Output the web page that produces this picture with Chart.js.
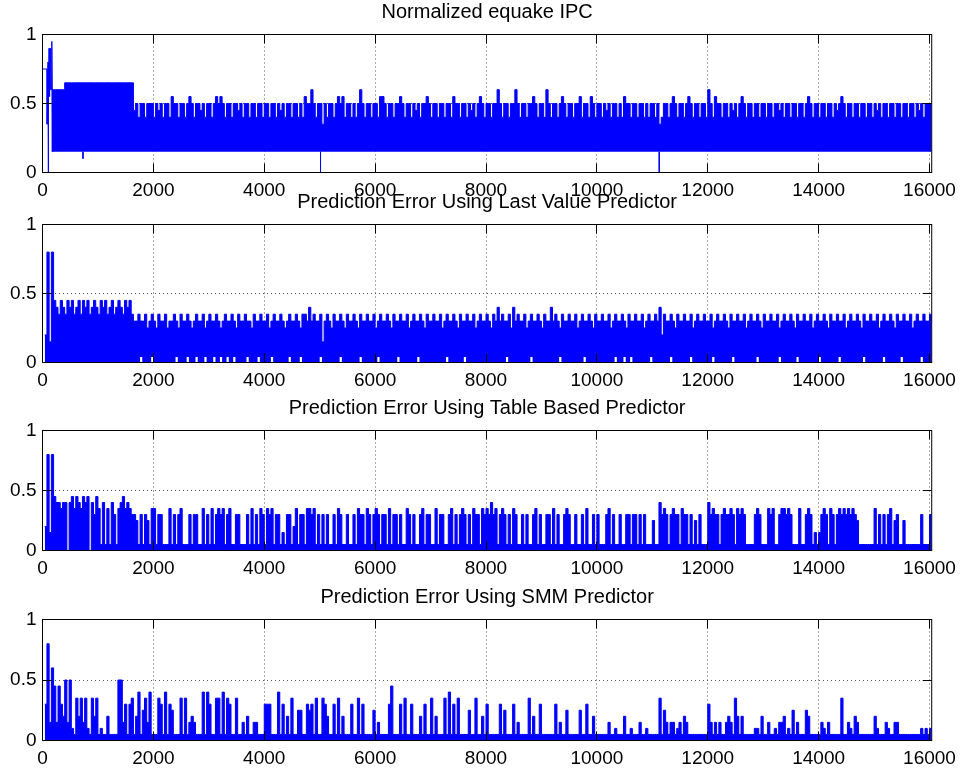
<!DOCTYPE html>
<html>
<head>
<meta charset="utf-8">
<title>equake IPC prediction error</title>
<script src="https://cdn.jsdelivr.net/npm/chart.js@4.4.1/dist/chart.umd.min.js"></script>
<style>
  html, body { margin: 0; padding: 0; background: #fff; overflow: hidden; }
  #fig { position: relative; width: 963px; height: 769px; }
  #fig canvas { position: absolute; left: 0; }
</style>
</head>
<body>
<div id="fig">
  <canvas id="ipcChart" width="963" height="201" style="top:-1px"></canvas>
  <canvas id="lastValueChart" width="963" height="201" style="top:189px"></canvas>
  <canvas id="tableChart" width="963" height="183" style="top:395px"></canvas>
  <canvas id="smmChart" width="963" height="184" style="top:584px"></canvas>
</div>
<script>
// asse x: un campione ogni 40 intervalli (0 .. 16040)
const sampleX = Array.from({ length: 402 }, (_, i) => i * 40);
const xTicks = [0, 2000, 4000, 6000, 8000, 10000, 12000, 14000, 16000];
const yTicks = [0, 0.5, 1];

const titles = [
  'Normalized equake IPC',
  'Prediction Error Using Last Value Predictor',
  'Prediction Error Using Table Based Predictor',
  'Prediction Error Using SMM Predictor'
];

// IPC normalizzato: parte iniziale (prima della banda)
const ipcHeadX = [0, 83, 84, 100, 104, 108, 118, 125, 132, 140, 148, 158, 168, 176, 182];
const ipcHeadY = [.75, .75, .35, .8, 0, .5, .9, .55, .9, .6, .9, .6, .95, .6, .15];
// limite inferiore della banda e picchi verso il basso
const ipcFloor = 0.15;
const ipcDipX = [730, 5015, 11125];
const ipcDipY = [.1, 0, 0];
// inviluppo superiore della banda
const ipcTop = [
  null,null,null,null,.6,.6,.6,.6,.6,.6,.65,.65,.65,.65,.65,.65,.65,.65,.65,.65,
  .65,.65,.65,.65,.65,.65,.65,.65,.65,.65,.65,.65,.65,.65,.65,.65,.65,.65,.65,.65,
  .65,.45,.5,.4,.5,.5,.4,.5,.5,.5,.4,.5,.45,.5,.4,.5,.5,.4,.55,.5,
  .5,.4,.5,.5,.4,.5,.55,.5,.4,.5,.5,.45,.5,.4,.5,.5,.4,.5,.55,.5,
  .55,.5,.4,.5,.5,.4,.5,.5,.45,.5,.4,.5,.5,.4,.5,.5,.4,.5,.5,.4,
  .5,.5,.4,.5,.5,.4,.5,.45,.5,.4,.5,.5,.4,.5,.5,.4,.5,.4,.55,.5,
  .5,.6,.5,.4,.5,.5,.35,.5,.4,.5,.5,.4,.5,.55,.5,.55,.4,.5,.5,.4,
  .5,.4,.5,.6,.5,.4,.5,.5,.4,.5,.5,.4,.55,.55,.5,.4,.5,.5,.4,.5,
  .5,.55,.5,.4,.5,.5,.4,.5,.45,.5,.4,.5,.5,.55,.5,.4,.5,.5,.4,.5,
  .5,.4,.5,.5,.4,.55,.5,.5,.4,.5,.5,.4,.5,.45,.5,.4,.5,.55,.5,.4,
  .5,.5,.4,.5,.5,.6,.5,.4,.5,.5,.4,.5,.5,.6,.5,.4,.5,.5,.4,.5,
  .5,.55,.5,.4,.5,.5,.4,.6,.5,.4,.5,.5,.4,.5,.55,.5,.4,.5,.5,.4,
  .5,.5,.55,.4,.5,.5,.4,.55,.5,.4,.5,.5,.4,.5,.45,.5,.4,.5,.5,.4,
  .5,.4,.55,.5,.5,.4,.5,.5,.4,.5,.5,.4,.5,.4,.5,.5,.4,.5,.35,.4,
  .5,.5,.4,.5,.55,.5,.4,.5,.5,.4,.5,.55,.5,.4,.5,.5,.4,.5,.5,.4,
  .6,.5,.4,.55,.5,.5,.4,.5,.5,.4,.5,.45,.5,.4,.5,.55,.5,.4,.5,.5,
  .4,.5,.5,.4,.5,.5,.4,.5,.5,.4,.5,.5,.45,.5,.4,.5,.5,.4,.5,.5,
  .4,.5,.5,.4,.5,.55,.5,.4,.5,.5,.4,.5,.5,.4,.5,.5,.4,.5,.45,.5,
  .55,.5,.4,.5,.5,.4,.5,.5,.4,.5,.5,.4,.5,.5,.4,.5,.45,.5,.4,.5,
  .5,.4,.5,.5,.4,.5,.5,.4,.5,.5,.4,.5,.5,.4,.5,.45,.5,.4,.5,.5,
  .5,.5
];

// errore predittore "last value": inviluppo superiore e inferiore
const lastValueTop = [
  null,.2,.8,.15,.8,.45,.4,.35,.45,.4,.35,.45,.4,.45,.35,.4,.45,.35,.45,.4,
  .45,.35,.4,.45,.4,.35,.45,.4,.45,.35,.4,.45,.35,.4,.45,.4,.35,.45,.4,.45,
  .35,.3,.3,.35,.3,.3,.35,.25,.3,.35,.3,.25,.35,.3,.3,.35,.25,.3,.3,.35,
  .3,.25,.35,.3,.3,.35,.3,.25,.3,.35,.3,.3,.35,.25,.3,.35,.3,.3,.35,.3,
  .25,.3,.35,.3,.3,.35,.3,.25,.35,.3,.3,.35,.3,.3,.25,.35,.3,.3,.35,.3,
  .3,.35,.25,.3,.35,.3,.3,.35,.3,.25,.3,.35,.3,.3,.35,.3,.25,.35,.35,.3,
  .4,.3,.35,.3,.3,.35,.15,.3,.35,.3,.25,.35,.3,.3,.35,.3,.25,.35,.3,.3,
  .35,.3,.25,.35,.3,.3,.35,.3,.3,.35,.25,.3,.35,.3,.3,.35,.3,.25,.35,.3,
  .3,.35,.3,.3,.35,.25,.3,.35,.3,.3,.35,.3,.25,.35,.3,.3,.35,.3,.3,.35,
  .25,.3,.35,.3,.3,.35,.3,.25,.35,.3,.3,.35,.3,.3,.35,.25,.3,.35,.3,.3,
  .35,.3,.25,.35,.3,.4,.3,.35,.3,.3,.35,.25,.4,.3,.35,.3,.3,.35,.25,.3,
  .35,.3,.3,.35,.3,.25,.35,.3,.3,.4,.3,.35,.3,.25,.35,.3,.3,.35,.3,.3,
  .35,.25,.3,.35,.3,.3,.35,.3,.25,.35,.3,.3,.35,.3,.3,.35,.25,.3,.35,.3,
  .3,.35,.3,.25,.35,.3,.3,.35,.3,.3,.35,.25,.3,.35,.3,.3,.35,.3,.4,.2,
  .35,.3,.3,.35,.3,.25,.35,.3,.3,.35,.3,.3,.35,.25,.3,.35,.3,.3,.35,.3,
  .3,.35,.25,.3,.35,.3,.3,.35,.3,.25,.35,.3,.3,.35,.3,.3,.35,.25,.3,.35,
  .3,.3,.35,.3,.25,.35,.3,.3,.35,.3,.3,.35,.25,.3,.35,.3,.3,.35,.3,.25,
  .35,.3,.3,.35,.3,.3,.35,.25,.3,.35,.3,.3,.35,.3,.25,.35,.3,.3,.35,.3,
  .3,.35,.25,.3,.35,.3,.3,.35,.3,.25,.35,.3,.3,.35,.3,.3,.35,.25,.3,.35,
  .3,.3,.35,.3,.25,.35,.3,.3,.35,.3,.3,.35,.25,.3,.35,.3,.3,.35,.3,.3,
  .35,.3
];
const lastValueLow = [
  null,0,0,0,0,0,0,0,0,0,0,0,0,0,0,0,0,0,0,0,
  0,0,0,0,0,0,0,0,0,0,0,0,0,0,0,0,0,0,0,0,
  0,0,0,0,.04,0,0,0,0,.04,0,0,0,0,0,0,0,0,0,0,
  .04,0,0,0,0,.04,0,0,0,.04,0,0,0,.04,0,0,0,.04,0,0,
  .04,0,0,.04,0,0,.04,0,0,0,0,0,.04,0,0,0,0,.04,0,0,
  0,0,0,.04,0,0,0,0,0,0,0,.04,0,0,0,0,.04,0,0,0,
  0,0,0,0,0,.04,0,0,0,0,0,0,0,0,.04,0,0,0,0,0,
  0,0,0,.04,0,0,0,0,0,0,0,.04,0,0,0,0,0,0,0,0,
  .04,0,0,0,0,0,0,0,0,.04,0,0,0,0,0,0,0,0,0,0,
  0,0,.04,0,0,0,0,0,0,0,.04,0,0,0,0,0,0,0,0,0,
  0,0,0,0,0,0,0,0,0,.04,0,0,0,0,0,0,0,0,0,0,
  .04,0,0,0,0,0,0,0,0,0,0,0,0,.04,0,0,0,0,0,0,
  0,0,0,0,.04,0,0,0,0,0,0,0,0,0,0,0,0,0,.04,0,
  0,0,.04,0,0,.04,0,0,0,0,0,0,0,0,.04,0,0,0,0,0,
  0,0,0,.04,0,0,0,0,0,0,0,0,.04,0,0,0,0,0,0,0,
  0,0,.04,0,0,0,0,0,0,0,0,.04,0,0,0,0,0,0,0,0,
  0,0,.04,0,0,0,0,0,0,0,0,0,.04,0,0,0,0,0,0,0,
  .04,0,0,0,0,0,0,0,0,0,.04,0,0,0,0,0,0,0,0,.04,
  0,0,0,0,0,0,0,0,0,0,.04,0,0,0,0,0,0,0,0,.04,
  0,0,0,0,0,0,0,.04,0,0,0,0,0,0,0,0,.04,0,0,0,
  0,0
];

// errore predittore a tabella
const tableErr = [
  null,.2,.8,.15,.8,.45,.4,.4,.35,.4,.4,0,.4,.45,.35,.45,.4,.35,.45,.4,
  .45,0,.4,.3,.45,.35,.05,.4,.05,.35,.05,.4,.3,.05,.35,.4,.45,.35,.4,.35,
  .3,.3,.25,.05,.3,.05,.3,.25,.05,.35,.35,.05,.3,.3,.05,.05,.05,.35,.05,.3,
  .05,.3,.35,.05,.05,.05,.3,.05,.3,.3,.05,.05,.35,.05,.3,.05,.35,.05,.3,.35,
  .3,.35,.05,.3,.35,.05,.05,.3,.3,.05,.05,.05,.3,.05,.35,.05,.3,.05,.35,.3,
  .05,.35,.3,.35,.05,.3,.3,.05,.15,.05,.3,.3,.05,.2,.35,.05,.3,.3,.05,.35,
  .35,.3,.35,.05,.3,.05,.3,.05,.3,.05,.05,.3,.05,.35,.3,.05,.05,.3,.05,.05,
  .3,.05,.35,.3,.3,.05,.35,.3,.05,.3,.35,.3,.05,.3,.3,.05,.35,.05,.3,.3,
  .05,.3,.05,.05,.35,.3,.05,.3,.05,.05,.3,.35,.05,.3,.3,.05,.05,.35,.05,.3,
  .3,.05,.05,.3,.35,.05,.3,.05,.3,.35,.3,.05,.3,.05,.35,.3,.3,.05,.35,.3,
  .35,.3,.4,.3,.35,.05,.3,.35,.3,.05,.3,.05,.35,.3,.05,.05,.3,.05,.3,.05,
  .05,.3,.35,.05,.3,.05,.05,.3,.3,.05,.35,.05,.3,.05,.05,.3,.35,.3,.05,.05,
  .3,.05,.05,.3,.05,.35,.05,.05,.3,.05,.3,.05,.05,.05,.3,.35,.05,.3,.05,.05,
  .3,.05,.05,.3,.3,.05,.3,.3,.05,.3,.05,.3,.05,.05,.05,.25,.05,.05,.4,.3,
  .35,.3,.05,.3,.35,.3,.3,.05,.35,.3,.3,.05,.3,.05,.25,.05,.3,.05,.05,.05,
  .4,.3,.35,.3,.3,.05,.3,.35,.3,.3,.35,.3,.05,.35,.3,.35,.3,.05,.05,.05,
  .05,.3,.35,.3,.05,.05,.05,.35,.3,.35,.05,.05,.3,.35,.35,.3,.35,.3,.05,.05,
  .05,.35,.05,.05,.3,.35,.3,.05,.15,.05,.15,.3,.35,.3,.05,.35,.3,.05,.3,.35,
  .3,.35,.3,.35,.3,.35,.3,.25,.05,.05,.05,.05,.05,.05,.05,.35,.05,.3,.05,.3,
  .05,.3,.35,.05,.25,.3,.05,.05,.25,.05,.05,.05,.05,.05,.05,.05,.3,.05,.05,.05,
  .3,.3
];

// errore predittore SMM
const smmErr = [
  null,.3,.8,.15,.6,.45,.15,.45,.3,.2,.5,.15,.5,.1,.05,.35,.2,.35,.15,.35,
  .1,.05,.35,.2,.35,.05,.1,.05,.05,.2,.05,.05,.05,.05,.5,.5,.15,.3,.05,.3,
  .35,.05,.2,.4,.05,.25,.35,.15,.4,.05,.05,.05,.35,.3,.05,.4,.05,.3,.25,.05,
  .05,.05,.35,.05,.35,.05,.15,.2,.15,.05,.05,.05,.4,.05,.4,.3,.05,.05,.35,.35,
  .05,.4,.05,.35,.3,.05,.05,.35,.05,.05,.15,.05,.2,.05,.05,.15,.15,.05,.05,.05,
  .3,.3,.3,.05,.05,.05,.4,.05,.3,.05,.2,.05,.35,.05,.05,.25,.25,.05,.05,.3,
  .25,.3,.05,.35,.05,.05,.35,.3,.2,.05,.05,.3,.05,.35,.05,.2,.05,.05,.05,.3,
  .05,.05,.35,.05,.3,.05,.05,.05,.05,.25,.05,.15,.05,.05,.05,.05,.3,.45,.05,.05,
  .05,.3,.05,.35,.05,.05,.3,.05,.05,.05,.2,.05,.3,.05,.05,.35,.05,.2,.05,.05,
  .05,.35,.05,.4,.05,.3,.05,.35,.05,.05,.05,.05,.25,.05,.05,.35,.05,.05,.2,.05,
  .3,.05,.05,.05,.05,.05,.3,.05,.25,.05,.05,.05,.3,.05,.15,.05,.05,.05,.05,.35,
  .05,.2,.05,.05,.3,.05,.05,.05,.05,.05,.05,.3,.05,.15,.05,.05,.25,.05,.05,.05,
  .05,.05,.25,.05,.05,.3,.05,.05,.2,.05,.05,.05,.05,.05,.05,.15,.05,.05,.1,.05,
  .05,.05,.2,.05,.05,.1,.05,.05,.05,.15,.05,.05,.1,.05,.05,.05,.05,.05,.35,.05,
  .25,.15,.05,.15,.15,.05,.1,.15,.05,.2,.15,.05,.05,.05,.05,.05,.05,.05,.05,.05,
  .3,.15,.05,.15,.05,.15,.05,.05,.15,.2,.15,.05,.35,.2,.05,.2,.05,.05,.05,.05,
  .05,.1,.1,.05,.2,.05,.05,.15,.05,.05,.1,.05,.15,.15,.2,.05,.1,.05,.25,.05,
  .15,.05,.05,.05,.25,.2,.05,.05,.05,.05,.05,.15,.1,.05,.15,.05,.05,.05,.05,.05,
  .35,.05,.05,.15,.1,.05,.2,.15,.05,.05,.05,.05,.05,.05,.05,.2,.1,.05,.05,.05,
  .15,.1,.05,.05,.15,.15,.05,.05,.05,.05,.05,.05,.05,.05,.05,.05,.1,.05,.1,.05,
  .1,.1
];

const BLUE = '#0000ff';
const FONT = "'Liberation Sans', Arial, Helvetica, sans-serif";

// riquadro e tacche interne stile MATLAB
const axesBox = {
  id: 'axesBox',
  afterDatasetsDraw(chart) {
    const { ctx, chartArea: a, scales: { x, y } } = chart;
    const len = 9;
    ctx.save();
    ctx.strokeStyle = '#000';
    ctx.lineWidth = 1;
    ctx.beginPath();
    xTicks.forEach(v => {
      const px = Math.floor(x.getPixelForValue(v)) + 0.5;
      ctx.moveTo(px, a.bottom); ctx.lineTo(px, a.bottom - len);
      ctx.moveTo(px, a.top); ctx.lineTo(px, a.top + len);
    });
    yTicks.forEach(v => {
      const py = Math.floor(y.getPixelForValue(v)) + 0.5;
      ctx.moveTo(a.left, py); ctx.lineTo(a.left + len, py);
      ctx.moveTo(a.right, py); ctx.lineTo(a.right - len, py);
    });
    ctx.stroke();
    ctx.strokeRect(a.left, a.top, a.right - a.left, a.bottom - a.top);
    ctx.restore();
  }
};

function panelOptions(titleText) {
  const tickFont = { family: FONT, size: 19 };
  const grid = { color: '#555', lineWidth: 1, drawTicks: false };
  const border = { display: false, dash: [1, 3] };
  return {
    responsive: false,
    animation: false,
    devicePixelRatio: 1,
    layout: { padding: { left: 0, right: 27.5, top: 0, bottom: 0 } },
    plugins: {
      legend: { display: false },
      tooltip: { enabled: false },
      title: {
        display: true,
        text: titleText,
        fullSize: false,
        color: '#000',
        font: { family: FONT, size: 20, weight: 'normal', lineHeight: 1.2 },
        padding: { top: 1, bottom: 10.5 }
      }
    },
    elements: {
      point: { radius: 0 },
      line: { borderWidth: 1, tension: 0 }
    },
    scales: {
      x: {
        type: 'linear',
        min: 0,
        max: 16040,
        afterFit: s => { s.height = 27.5; },
        afterBuildTicks: s => { s.ticks = xTicks.map(v => ({ value: v })); },
        ticks: { autoSkip: false, maxRotation: 0, padding: 7, color: '#000', font: tickFont, callback: v => String(v) },
        grid,
        border
      },
      y: {
        type: 'linear',
        min: 0,
        max: 1,
        afterFit: s => { s.width = 42.5; },
        afterBuildTicks: s => { s.ticks = yTicks.map(v => ({ value: v })); },
        ticks: { padding: 6, color: '#000', font: tickFont, callback: v => String(v) },
        grid,
        border
      }
    }
  };
}

function makePanel(id, titleText, datasets) {
  return new Chart(document.getElementById(id), {
    type: 'line',
    data: { labels: sampleX, datasets },
    options: panelOptions(titleText),
    plugins: [axesBox]
  });
}

const ipcDips = [];
ipcDipX.forEach((x, i) => {
  ipcDips.push({ x, y: ipcFloor }, { x, y: ipcDipY[i] }, { x, y: null });
});

makePanel('ipcChart', titles[0], [
  {
    data: ipcHeadX.map((x, i) => ({ x, y: ipcHeadY[i] })),
    borderColor: BLUE, fill: false
  },
  {
    data: ipcDips,
    borderColor: BLUE, fill: false
  },
  {
    data: ipcTop,
    borderColor: BLUE, backgroundColor: BLUE,
    stepped: true, fill: { value: ipcFloor }
  }
]);

makePanel('lastValueChart', titles[1], [
  {
    data: lastValueLow,
    borderColor: 'rgba(0,0,0,0)', stepped: true, fill: false
  },
  {
    data: lastValueTop,
    borderColor: BLUE, backgroundColor: BLUE,
    stepped: true, fill: '-1'
  }
]);

makePanel('tableChart', titles[2], [
  {
    data: tableErr,
    borderColor: BLUE, backgroundColor: BLUE,
    stepped: true, fill: 'origin'
  }
]);

makePanel('smmChart', titles[3], [
  {
    data: smmErr,
    borderColor: BLUE, backgroundColor: BLUE,
    stepped: true, fill: 'origin'
  }
]);
</script>
</body>
</html>
